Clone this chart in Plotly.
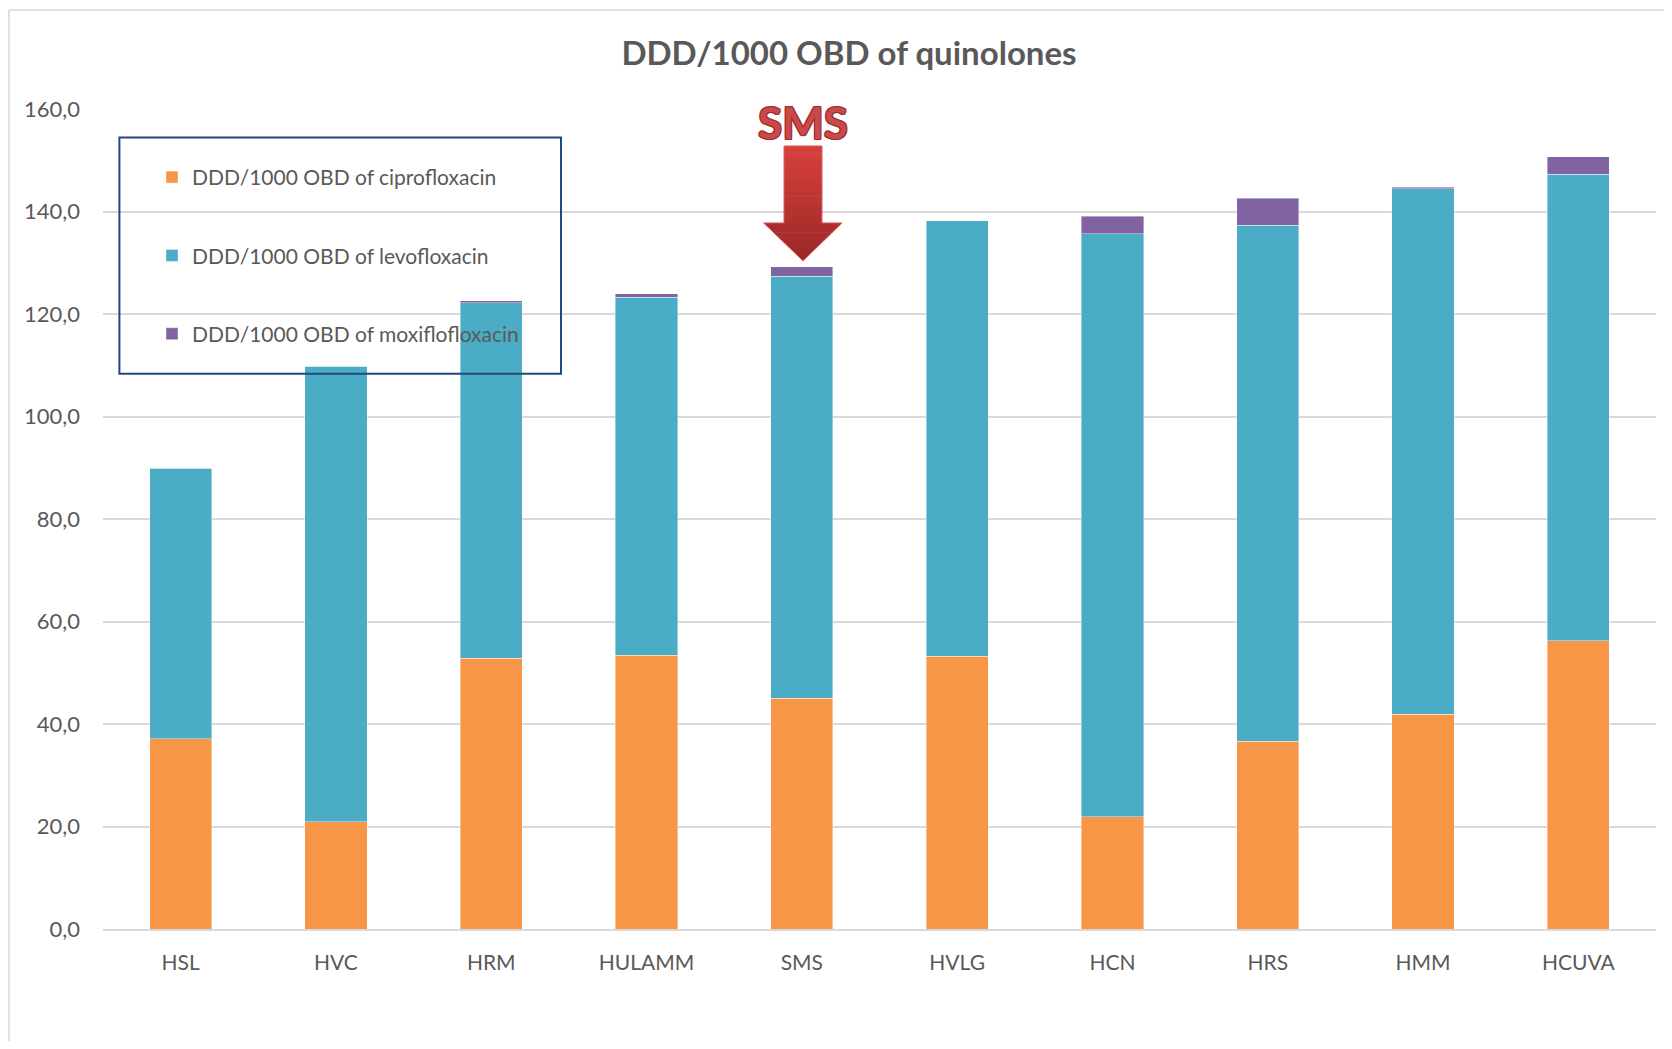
import plotly.graph_objects as go

HOSPITALS = ["HSL", "HVC", "HRM", "HULAMM", "SMS", "HVLG", "HCN", "HRS", "HMM", "HCUVA"]
CIPRO = [37.1, 20.9, 52.8, 53.4, 45.0, 53.2, 21.9, 36.6, 41.9, 56.2]
LEVO = [52.8, 88.9, 69.4, 69.9, 82.4, 85.0, 113.8, 100.7, 102.5, 91.1]
MOXI = [0.1, 0.0, 0.4, 0.7, 1.8, 0.0, 3.4, 5.3, 0.3, 3.4]
Y_TICKS = [0, 20, 40, 60, 80, 100, 120, 140, 160]

ORANGE = "#F79646"
TEAL = "#4BACC6"
PURPLE = "#8064A2"
TEXT = "#595959"
GRID = "#D9D9D9"

# page has an 8px body margin, so the figure starts at (8, 8)
OFF = 8
W, H = 1656, 1033
PLOT_X0, PLOT_X1 = 103, 1656
PLOT_Y0, PLOT_Y1 = 109, 929.5
ML, MR = PLOT_X0 - OFF, OFF + W - PLOT_X1
MT, MB = PLOT_Y0 - OFF, OFF + H - PLOT_Y1


def px(x):
    return (x - PLOT_X0) / (PLOT_X1 - PLOT_X0)


def py(y):
    return (PLOT_Y1 - y) / (PLOT_Y1 - PLOT_Y0)


def lerp_color(c1, c2, t):
    a = [int(c1[i:i + 2], 16) for i in (1, 3, 5)]
    b = [int(c2[i:i + 2], 16) for i in (1, 3, 5)]
    return "#" + "".join(f"{round(a[k] + (b[k] - a[k]) * t):02x}" for k in range(3))


def arrow_shapes():
    # down block arrow made of horizontal slices to fake the gradient fill
    sx0, sx1 = 784, 822
    hx0, hx1 = 763.5, 842
    tip_x = 803
    y_top, y_head, y_tip = 146, 223, 261
    n = 16
    shapes = []

    def half_width(y):
        t = (y - y_head) / (y_tip - y_head)
        return (hx1 - hx0) / 2 * (1 - t)

    for i in range(n):
        y0 = y_top + (y_tip - y_top) * i / n
        y1 = min(y_top + (y_tip - y_top) * (i + 1) / n + 0.6, y_tip)
        col = lerp_color("#D6403B", "#9C2828", i / (n - 1))
        if y1 <= y_head:
            pts = [(sx0, y0), (sx1, y0), (sx1, y1), (sx0, y1)]
        elif y0 >= y_head:
            w0, w1 = half_width(y0), half_width(y1)
            pts = [(tip_x - w0, y0), (tip_x + w0, y0), (tip_x + w1, y1), (tip_x - w1, y1)]
        else:
            w1 = half_width(y1)
            hw = (hx1 - hx0) / 2
            pts = [(sx0, y0), (sx1, y0), (sx1, y_head), (tip_x + hw, y_head),
                   (tip_x + w1, y1), (tip_x - w1, y1), (tip_x - hw, y_head), (sx0, y_head)]
        path = "M " + " L ".join(f"{px(x):.5f},{py(y):.5f}" for x, y in pts) + " Z"
        shapes.append(dict(type="path", xref="paper", yref="paper", path=path,
                           fillcolor=col, line=dict(width=0), layer="above"))
    outline = [(sx0, y_top), (sx1, y_top), (sx1, y_head), (hx1, y_head), (tip_x, y_tip),
               (hx0, y_head), (sx0, y_head)]
    path = "M " + " L ".join(f"{px(x):.5f},{py(y):.5f}" for x, y in outline) + " Z"
    shapes.append(dict(type="path", xref="paper", yref="paper", path=path,
                       line=dict(color="#D8605C", width=1), layer="above"))
    return shapes


def main():
    fig = go.Figure()
    series = [
        ("DDD/1000 OBD of ciprofloxacin", CIPRO, ORANGE),
        ("DDD/1000 OBD of levofloxacin", LEVO, TEAL),
        ("DDD/1000 OBD of moxiflofloxacin", MOXI, PURPLE),
    ]
    for i, (name, vals, color) in enumerate(series):
        fig.add_trace(go.Bar(
            x=HOSPITALS, y=vals, name=name, legendgroup=f"g{i}",
            marker=dict(color=color, line=dict(color="rgba(255,255,255,0.5)", width=0.8)),
            width=0.4,
        ))

    shapes = [
        # legend frame
        dict(type="rect", xref="paper", yref="paper",
             x0=px(119.4), x1=px(561), y0=py(374), y1=py(137.5),
             line=dict(color="#1F497D", width=2), layer="above"),
        # chart area border (top and left)
        dict(type="line", xref="paper", yref="paper", x0=px(9), x1=px(1700),
             y0=py(10), y1=py(10), line=dict(color=GRID, width=1.5)),
        dict(type="line", xref="paper", yref="paper", x0=px(9), x1=px(9),
             y0=py(10), y1=py(1100), line=dict(color=GRID, width=1.5)),
    ] + arrow_shapes()

    fig.update_layout(
        width=W, height=H,
        margin=dict(l=ML, r=MR, t=MT, b=MB, pad=0),
        paper_bgcolor="white", plot_bgcolor="white",
        barmode="stack", bargap=0.6,
        separators=",.",
        font=dict(family="Lato", size=21, color=TEXT),
        title=dict(text="<b>DDD/1000 OBD of quinolones</b>", x=(849 - OFF) / W, xanchor="center",
                   y=1 - (53 - OFF) / H, yanchor="middle",
                   font=dict(family="Lato", size=33, color=TEXT)),
        legend=dict(x=px(152), y=py(157), xanchor="left", yanchor="top",
                    bgcolor="rgba(0,0,0,0)", borderwidth=0,
                    traceorder="grouped", tracegroupgap=48,
                    font=dict(family="Lato", size=21, color=TEXT)),
        shapes=shapes,
        annotations=[dict(
            text="<b>SMS</b>", xref="paper", yref="paper", x=px(803), y=py(122),
            xanchor="center", yanchor="middle", showarrow=False,
            font=dict(family="Lato", size=44, color="#C8494A",
                      shadow="1px 1px 0 #9E2B2B, -1px -1px 0 #9E2B2B, 1px -1px 0 #9E2B2B, -1px 1px 0 #9E2B2B"),
        )],
    )
    fig.update_xaxes(showgrid=False, showline=True, linecolor=GRID, linewidth=1.5,
                     ticks="", ticklabelstandoff=14, tickfont=dict(size=21, color=TEXT))
    fig.update_yaxes(range=[0, 160], tickvals=Y_TICKS, tickformat=".1f",
                     showgrid=True, gridcolor=GRID, gridwidth=1.5, zeroline=False,
                     showline=False, ticks="", ticklabelstandoff=22,
                     tickfont=dict(size=22, color=TEXT))

    fig.write_html("out.html")


if __name__ == "__main__":
    main()
